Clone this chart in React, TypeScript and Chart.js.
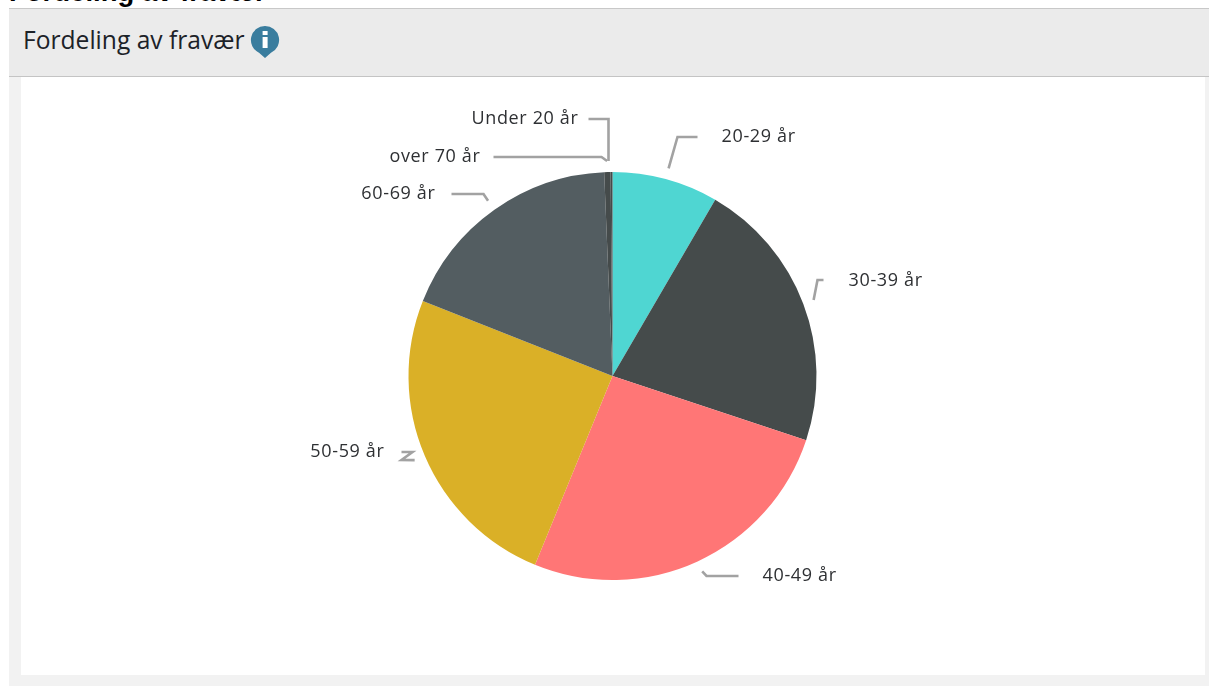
import React, { useEffect, useRef } from "react";
import { Chart, registerables } from "chart.js";

Chart.register(...registerables);

const categories = ["20-29 år", "30-39 år", "40-49 år", "50-59 år", "60-69 år", "over 70 år", "Under 20 år"];
const shares = [8.4, 21.7, 26.1, 24.8, 18.35, 0.5, 0.15];
const colors = ["#4fd6d2", "#454b4b", "#ff7676", "#dab027", "#535d61", "#454b4b", "#454b4b"];

// Leader-line layout, relative to the pie centre: elbow(s), line end, label anchor
type Lead = { via: [number, number][]; labelX: number; labelY: number; align: CanvasTextAlign; startX?: number };
const leads: Lead[] = [
  { via: [[65, -239], [85, -239]], labelX: 109, labelY: -239, align: "left" },
  { via: [[205, -96], [211, -96]], labelX: 236, labelY: -95, align: "left" },
  { via: [[94, 200], [126, 200]], labelX: 150, labelY: 200, align: "left" },
  { via: [[-211, 84], [-200, 76], [-211, 76]], labelX: -228, labelY: 76, align: "right" },
  { via: [[-129, -182], [-161, -182]], labelX: -177, labelY: -182, align: "right" },
  { via: [[-11, -219], [-119, -219]], labelX: -132, labelY: -219, align: "right" },
  { via: [[-4, -257], [-24, -257]], labelX: -34, labelY: -257, align: "right", startX: -4 },
];

const leaderPlugin = {
  id: "leaders",
  afterDatasetsDraw(chart: any) {
    const { ctx } = chart;
    const arcs = chart.getDatasetMeta(0).data;
    ctx.save();
    arcs.forEach((arc: any, i: number) => {
      const mid = (arc.startAngle + arc.endAngle) / 2;
      const r = arc.outerRadius + 11;
      const x0 = arc.x;
      const y0 = arc.y;
      const l = leads[i];
      ctx.beginPath();
      ctx.moveTo(l.startX !== undefined ? x0 + l.startX : x0 + Math.cos(mid) * r, y0 + Math.sin(mid) * r);
      l.via.forEach(([x, y]) => ctx.lineTo(x0 + x, y0 + y));
      ctx.strokeStyle = "#a2a2a2";
      ctx.lineWidth = 2.6;
      ctx.stroke();
      ctx.font = '18px "Open Sans"';
      (ctx as any).letterSpacing = "0.65px";
      ctx.fillStyle = "#2e3033";
      ctx.textAlign = l.align;
      ctx.textBaseline = "middle";
      ctx.fillText(categories[i], x0 + l.labelX, y0 + l.labelY);
    });
    ctx.restore();
  },
};

export default function App() {
  const ref = useRef<HTMLCanvasElement>(null);
  useEffect(() => {
    const chart = new Chart(ref.current!, {
      type: "pie",
      data: {
        labels: categories,
        datasets: [{ data: shares, backgroundColor: colors, borderWidth: 0 }],
      },
      options: {
        animation: false,
        responsive: false,
        layout: { padding: { top: 95, bottom: 95, left: 0, right: 1 } },
        plugins: { legend: { display: false }, tooltip: { enabled: false } },
      },
      plugins: [leaderPlugin],
    });
    return () => chart.destroy();
  }, []);

  return (
    <div style={{ position: "fixed", inset: 0, width: 1209, height: 686, overflow: "hidden", background: "#fff" }}>
      <div
        style={{
          position: "absolute", left: 9, top: -24, font: 'bold 27.5px/32px "Liberation Sans"', color: "#000", whiteSpace: "nowrap",
        }}
      >
        Fordeling av fravær
      </div>
      <div style={{ position: "absolute", left: 9, top: 8, width: 1200, height: 678, background: "#f2f2f2" }} />
      <div
        style={{
          position: "absolute", left: 9, top: 8, width: 1200, height: 69, boxSizing: "border-box", background: "#ebebeb",
          borderTop: "1px solid #c8c8c8", borderBottom: "1px solid #c4c4c4",
        }}
      >
        <span
          style={{
            position: "absolute", left: 14, top: 13, font: '500 24.6px/36px "Open Sans"', color: "#1c2228", whiteSpace: "nowrap",
          }}
        >
          Fordeling av fravær
        </span>
        <svg width="30" height="34" viewBox="0 0 30 34" style={{ position: "absolute", left: 241, top: 16 }}>
          <path d="M15 1 A14 14 0 0 1 21 27.7 L15 33 L9 27.7 A14 14 0 0 1 15 1 Z" fill="#3a7d9e" />
          <rect x="12.6" y="12" width="5" height="11" fill="#fff" />
          <rect x="12.6" y="6" width="5" height="4" fill="#fff" />
        </svg>
      </div>
      <div style={{ position: "absolute", left: 21, top: 77, width: 1184, height: 598, background: "#fff" }}>
        <canvas ref={ref} width={1184} height={598} style={{ display: "block" }} />
      </div>
    </div>
  );
}
